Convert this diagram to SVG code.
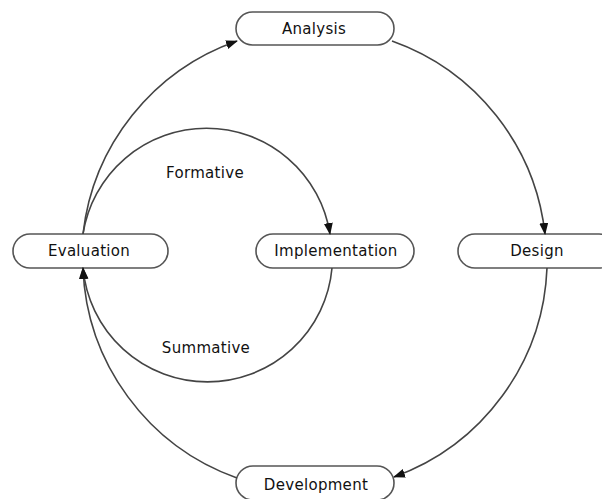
<svg xmlns="http://www.w3.org/2000/svg" width="602" height="499" viewBox="0 0 602 499">
<style>
.box{fill:#fff;stroke:#555;stroke-width:1.6}
.lbl{font-family:"DejaVu Sans",sans-serif;font-size:15px;fill:#111;text-anchor:middle;dominant-baseline:central;letter-spacing:0.3px}
.edge{fill:none;stroke:#444;stroke-width:1.6;marker-end:url(#ah)}
</style>
<defs>
<marker id="ah" markerUnits="userSpaceOnUse" markerWidth="12" markerHeight="10" refX="11" refY="4.5" orient="auto">
<path d="M0,0 L12,4.5 L0,9 z" fill="#111"/>
</marker>
</defs>
<rect width="602" height="499" fill="#fff"/>
<g id="analysis"><rect class="box" x="236" y="12" width="158" height="33" rx="16.5"/><text class="lbl" x="314" y="28.5">Analysis</text></g>
<g id="evaluation"><rect class="box" x="13" y="234" width="155" height="34" rx="17"/><text class="lbl" x="89" y="251">Evaluation</text></g>
<g id="implementation"><rect class="box" x="256" y="234" width="158" height="34" rx="17"/><text class="lbl" x="336" y="251">Implementation</text></g>
<g id="design"><rect class="box" x="458" y="234" width="158" height="34" rx="17"/><text class="lbl" x="537" y="251">Design</text></g>
<g id="development"><rect class="box" x="236" y="466" width="158" height="34" rx="17"/><text class="lbl" x="316" y="485">Development</text></g>
<g id="connectors">
<path class="edge" d="M83,234 A232,232 0 0 1 237,41"/>
<path class="edge" d="M392,41 A232,232 0 0 1 545,234"/>
<path class="edge" d="M547,268 A232,232 0 0 1 394,477"/>
<path class="edge" d="M237,478 A232,232 0 0 1 83,268"/>
<path class="edge" d="M83,234 A125,125 0 0 1 330,234"/>
<path class="edge" d="M332,268 A125,125 0 0 1 83,268"/>
<text class="lbl" x="205" y="173">Formative</text>
<text class="lbl" x="206" y="348">Summative</text>
</g>
</svg>
